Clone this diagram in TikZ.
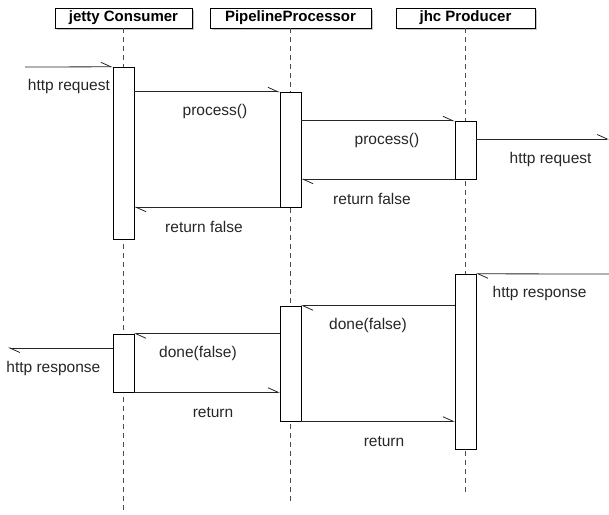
\documentclass[tikz,border=0pt]{standalone}
\usepackage{fontspec}
\setmainfont{Liberation Sans}
\usetikzlibrary{arrows.meta,shadows}

\begin{document}
\begin{tikzpicture}[x=1pt,y=-1pt,>={Straight Barb[harpoon,length=10pt,width=9pt]},
  obj/.style={draw,fill=white,minimum height=20pt,inner sep=0pt,font=\fontsize{15}{18}\selectfont\bfseries,drop shadow={shadow xshift=2pt,shadow yshift=-2pt,fill=black!45}},
  bar/.style={draw,fill=white,minimum width=21pt,inner sep=0pt,drop shadow={shadow xshift=1.2pt,shadow yshift=-1.2pt,fill=black!35}},
  life/.style={dash pattern=on 5pt off 4pt,black!70,line width=0.8pt},
  msg/.style={->,black!85,line width=0.8pt},
  lbl/.style={midway,yshift=-20pt,font=\fontsize{15.5}{18}\selectfont}]
\useasboundingbox (0,0) rectangle (609,514);
\node[obj,minimum width=137pt] (cons) at (123.5,18) {jetty Consumer};
\node[obj,minimum width=161pt] (pipe) at (290.5,18) {PipelineProcessor};
\node[obj,minimum width=139pt] (prod) at (465.5,18) {jhc Producer};
\draw[life] (cons.south) -- (cons.south |- 0,510);
\draw[life] (pipe.south) -- (pipe.south |- 0,505);
\draw[life] (prod.south) -- (prod.south |- 0,492);
\node[bar,minimum height=172pt] (cons1) at (cons |- 0,153) {};
\node[bar,minimum height=115pt] (pipe1) at (pipe |- 0,149.5) {};
\node[bar,minimum height=58pt] (prod1) at (prod |- 0,150) {};
\node[bar,minimum height=175pt] (prod2) at (prod |- 0,361.5) {};
\node[bar,minimum height=115pt] (pipe2) at (pipe |- 0,363.5) {};
\node[bar,minimum height=58pt] (cons2) at (cons |- 0,363) {};
\coordinate (reqin) at (25,67);
\coordinate (reqout) at (609,139);
\coordinate (respin) at (609,274);
\coordinate (respout) at (8,348);
\draw[msg] (reqin) -- (cons1.north west) node[lbl] {http request};
\draw[msg] (cons1.east |- pipe1.north) -- (pipe1.north west) node[lbl,xshift=8pt] {process()};
\draw[msg] (pipe1.east |- prod1.north) -- (prod1.north west) node[lbl,xshift=9pt] {process()};
\draw[msg] (prod1.east |- reqout) -- (reqout) node[lbl,xshift=8pt] {http request};
\draw[msg] (prod1.south west) -- (prod1.south west -| pipe1.east) node[lbl,xshift=-6pt] {return false};
\draw[msg] (pipe1.south west) -- (pipe1.south west -| cons1.east) node[lbl,xshift=-3pt] {return false};
\draw[msg] (respin) -- (prod2.north east) node[lbl,xshift=-3pt] {http response};
\draw[msg] (prod2.west |- pipe2.north) -- (pipe2.north east) node[lbl,xshift=-10pt] {done(false)};
\draw[msg] (pipe2.west |- cons2.north) -- (cons2.north east) node[lbl,xshift=-9pt] {done(false)};
\draw[msg] (cons2.west |- respout) -- (respout) node[lbl,xshift=-7pt] {http response};
\draw[msg] (cons2.south east) -- (cons2.south east -| pipe2.west) node[lbl,xshift=6pt] {return};
\draw[msg] (pipe2.south east) -- (pipe2.south east -| prod2.west) node[lbl,xshift=6pt] {return};
\end{tikzpicture}
\end{document}
